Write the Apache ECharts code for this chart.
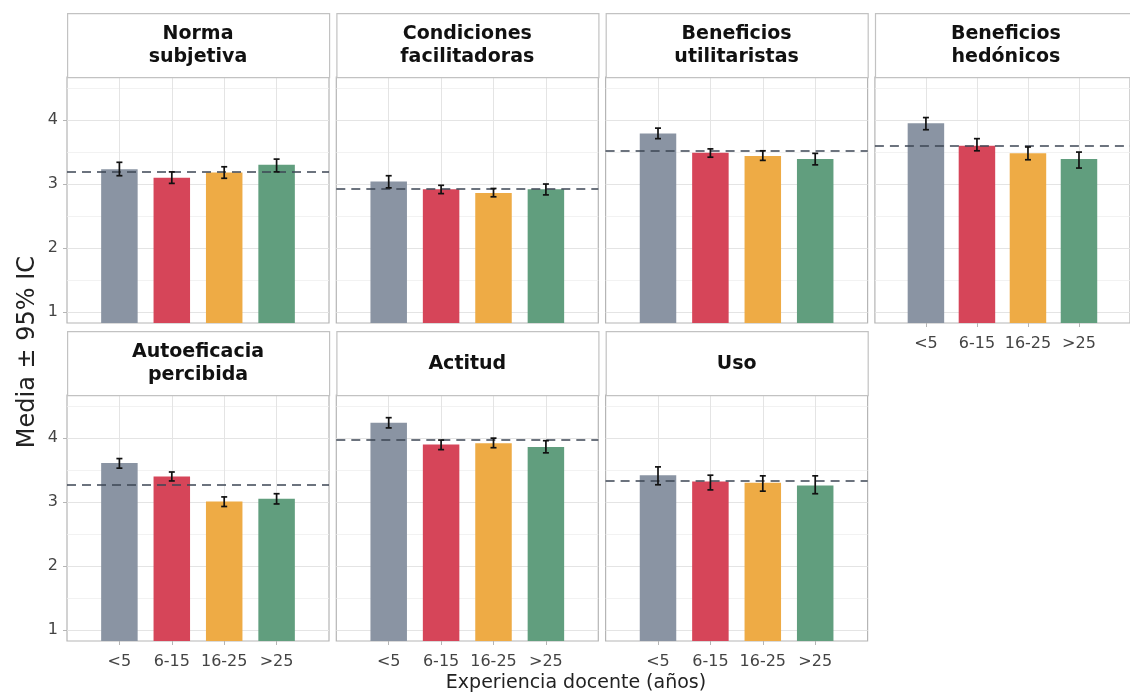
<!DOCTYPE html>
<html>
<head>
<meta charset="utf-8">
<script src="https://cdn.jsdelivr.net/npm/echarts@6/dist/echarts.min.js"></script>
<style>
  html, body { margin: 0; padding: 0; background: #fff; }
  #chart { width: 1130px; height: 697px; }
</style>
</head>
<body>
<div id="chart"></div>
<script>
// Experience groups (x categories) and their fill colours
const categories = ['<5', '6-15', '16-25', '>25'];
const groupColors = ['#8A94A3', '#D64559', '#EEAB45', '#619E7E'];
const yTicks = [1, 2, 3, 4];
const yMinorTicks = [1.5, 2.5, 3.5, 4.5];

// Mean per group, 95% CI [low, high] and overall mean for each construct
const mediaNorma = [3.23, 3.10, 3.18, 3.30];
const icNorma = [[3.13, 3.34], [3.01, 3.19], [3.09, 3.27], [3.19, 3.39]];
const globalNorma = 3.19;

const mediaCondiciones = [3.04, 2.92, 2.86, 2.92];
const icCondiciones = [[2.94, 3.13], [2.85, 2.98], [2.80, 2.93], [2.83, 3.00]];
const globalCondiciones = 2.92;

const mediaUtilitaristas = [3.79, 3.49, 3.44, 3.39];
const icUtilitaristas = [[3.71, 3.875], [3.42, 3.55], [3.37, 3.52], [3.30, 3.48]];
const globalUtilitaristas = 3.52;

const mediaHedonicos = [3.95, 3.60, 3.48, 3.39];
const icHedonicos = [[3.85, 4.04], [3.52, 3.71], [3.38, 3.58], [3.25, 3.50]];
const globalHedonicos = 3.60;

const mediaAutoeficacia = [3.61, 3.40, 3.01, 3.05];
const icAutoeficacia = [[3.53, 3.68], [3.33, 3.47], [2.93, 3.08], [2.97, 3.13]];
const globalAutoeficacia = 3.27;

const mediaActitud = [4.24, 3.90, 3.92, 3.86];
const icActitud = [[4.16, 4.32], [3.82, 3.97], [3.85, 4.00], [3.77, 3.96]];
const globalActitud = 3.98;

const mediaUso = [3.42, 3.32, 3.30, 3.26];
const icUso = [[3.27, 3.55], [3.19, 3.42], [3.17, 3.41], [3.13, 3.41]];
const globalUso = 3.33;

const facets = [
  { title: 'Norma\nsubjetiva', media: mediaNorma, ic: icNorma, global: globalNorma },
  { title: 'Condiciones\nfacilitadoras', media: mediaCondiciones, ic: icCondiciones, global: globalCondiciones },
  { title: 'Beneficios\nutilitaristas', media: mediaUtilitaristas, ic: icUtilitaristas, global: globalUtilitaristas },
  { title: 'Beneficios\nhedónicos', media: mediaHedonicos, ic: icHedonicos, global: globalHedonicos },
  { title: 'Autoeficacia\npercibida', media: mediaAutoeficacia, ic: icAutoeficacia, global: globalAutoeficacia },
  { title: 'Actitud', media: mediaActitud, ic: icActitud, global: globalActitud },
  { title: 'Uso', media: mediaUso, ic: icUso, global: globalUso }
];

// Facet layout (4 columns, 2 rows)
const FONT = '"DejaVu Sans", sans-serif';
const panelLeft = [67, 336.3, 605.6, 874.9];
const stripTop = [13, 331];
const panelW = 262, stripH = 64, plotH = 246;
const yMin = 0.825, yMax = 4.675;

const grids = [], xAxes = [], yAxes = [], series = [], graphics = [];

facets.forEach((f, i) => {
  const row = Math.floor(i / 4), col = i % 4;
  const left = panelLeft[col], top = stripTop[row] + stripH;
  const isLeft = col === 0;
  const isBottom = i >= 3;

  grids.push({
    left: left, top: top, width: panelW, height: plotH,
    show: true, backgroundColor: '#fff', borderColor: '#b5b5b5', borderWidth: 1.2
  });

  xAxes.push({
    type: 'value', gridIndex: i, min: 0, max: 5, interval: 1,
    axisLine: { show: false },
    axisTick: { show: isBottom, customValues: [1, 2, 3, 4], length: 4, lineStyle: { color: '#b5b5b5', width: 1 } },
    axisLabel: {
      show: isBottom, customValues: [1, 2, 3, 4], margin: 13,
      fontFamily: FONT, fontSize: 16, color: '#444',
      formatter: v => categories[Math.round(v) - 1] || ''
    },
    splitLine: { show: true, lineStyle: { color: '#e4e4e4', width: 1 } }
  });

  // major grid + labels
  yAxes.push({
    type: 'value', gridIndex: i, min: yMin, max: yMax, position: 'left',
    axisLine: { show: false },
    axisTick: { show: isLeft, customValues: yTicks, length: 4, lineStyle: { color: '#b5b5b5', width: 1 } },
    axisLabel: { show: isLeft, customValues: yTicks, margin: 9, fontFamily: FONT, fontSize: 16, color: '#444' },
    splitLine: { show: true, lineStyle: { color: '#e4e4e4', width: 1 } }
  });
  // minor grid
  yAxes.push({
    type: 'value', gridIndex: i, min: yMin, max: yMax, position: 'left',
    axisLine: { show: false },
    axisTick: { show: false, customValues: yMinorTicks },
    axisLabel: { show: false, customValues: yMinorTicks },
    splitLine: { show: true, lineStyle: { color: '#efefef', width: 0.8 } }
  });

  series.push({
    type: 'bar', xAxisIndex: i, yAxisIndex: 2 * i, barWidth: 36.5, clip: true,
    data: f.media.map((v, k) => ({ value: [k + 1, v], itemStyle: { color: groupColors[k] } })),
    markLine: {
      silent: true, symbol: 'none', label: { show: false },
      lineStyle: { type: [9, 6], color: '#3d4654', width: 1.6 },
      data: [{ yAxis: f.global }]
    },
    z: 2
  });

  series.push({
    type: 'custom', xAxisIndex: i, yAxisIndex: 2 * i, z: 10,
    data: f.ic.map((c, k) => [k + 1, c[0], c[1]]),
    encode: { x: 0, y: [1, 2] },
    renderItem: (params, api) => {
      const x = api.value(0);
      const lo = api.coord([x, api.value(1)]);
      const hi = api.coord([x, api.value(2)]);
      const cap = 3;
      const st = { stroke: '#111', lineWidth: 1.7 };
      return {
        type: 'group',
        children: [
          { type: 'line', shape: { x1: lo[0], y1: lo[1], x2: hi[0], y2: hi[1] }, style: st },
          { type: 'line', shape: { x1: lo[0] - cap, y1: lo[1], x2: lo[0] + cap, y2: lo[1] }, style: st },
          { type: 'line', shape: { x1: hi[0] - cap, y1: hi[1], x2: hi[0] + cap, y2: hi[1] }, style: st }
        ]
      };
    }
  });

  // facet strip
  graphics.push({
    type: 'rect', left: left, top: stripTop[row],
    shape: { width: panelW, height: stripH },
    style: { fill: '#fff', stroke: '#c2c2c2', lineWidth: 1.2 }, z: 1
  });
  graphics.push({
    type: 'text', x: left + panelW / 2, y: stripTop[row] + stripH / 2 + 1, z: 2,
    style: {
      text: f.title, fontFamily: FONT, fontSize: 19, fontWeight: 'bold', fill: '#111',
      align: 'center', verticalAlign: 'middle', lineHeight: 23
    }
  });
});

// Axis titles
graphics.push({
  type: 'text', x: 576, y: 683, z: 2,
  style: { text: 'Experiencia docente (años)', fontFamily: FONT, fontSize: 19, fill: '#222', align: 'center', verticalAlign: 'middle' }
});
graphics.push({
  type: 'text', x: 28, y: 352, rotation: Math.PI / 2, z: 2,
  style: { text: 'Media ± 95% IC', fontFamily: FONT, fontSize: 24, fill: '#222', align: 'center', verticalAlign: 'middle' }
});

const chart = echarts.init(document.getElementById('chart'), null, { renderer: 'canvas' });
chart.setOption({
  backgroundColor: '#fff',
  animation: false,
  grid: grids,
  xAxis: xAxes,
  yAxis: yAxes,
  series: series,
  graphic: graphics
});
</script>
</body>
</html>
